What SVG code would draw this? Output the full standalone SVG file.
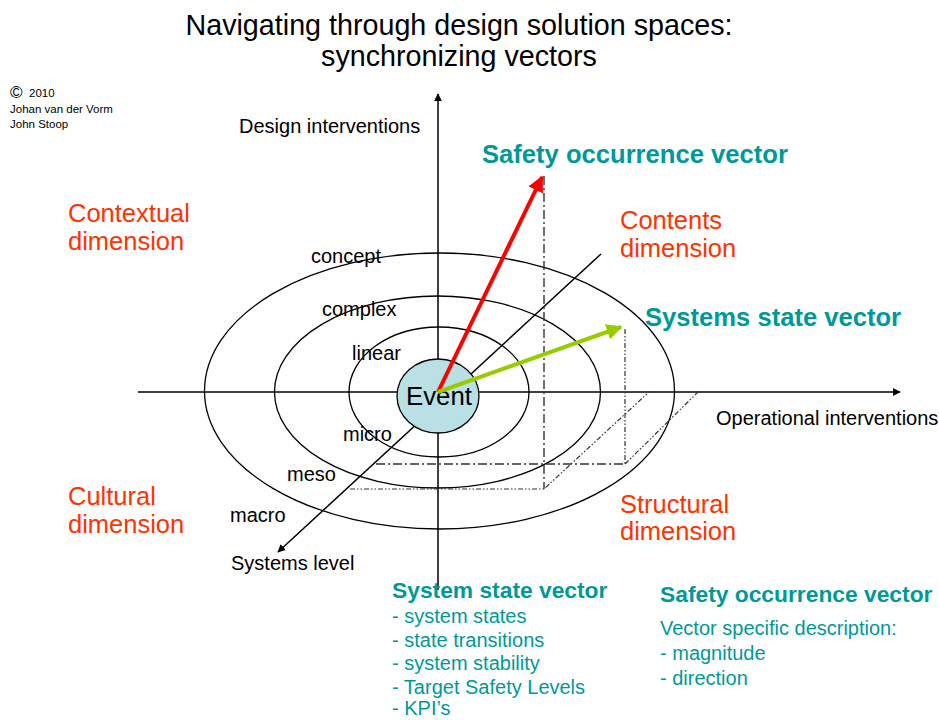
<svg xmlns="http://www.w3.org/2000/svg" width="939" height="720" viewBox="0 0 939 720">
<style>
text{font-family:"Liberation Sans",Arial,sans-serif;fill:#000}
.title{font-size:28.7px;text-anchor:middle}
.dim{font-size:25.5px;fill:#ff3300}
.vec{font-size:25.6px;font-weight:bold;fill:#009999}
.sub{font-size:22.8px;font-weight:bold;fill:#009999}
.item{font-size:20px;fill:#009999}
.lbl{font-size:20px}
.small{font-size:11.5px}
.axis{stroke:#000;stroke-width:1.5;fill:none}
.ell{stroke:#000;stroke-width:1.3;fill:none}
.dd{stroke:#333;stroke-width:1.4;fill:none;stroke-dasharray:9 3 2 3}
.ddd{stroke:#333;stroke-width:1.2;fill:none;stroke-dasharray:5 2 1.5 2 1.5 2}
</style>
<defs>
<marker id="ah" viewBox="0 0 10 10" refX="9" refY="5" markerWidth="8" markerHeight="8" markerUnits="userSpaceOnUse" orient="auto"><path d="M0,0 L10,5 L0,10 z" fill="#000"/></marker>
<marker id="ahr" viewBox="0 0 10 10" refX="9" refY="5" markerWidth="4" markerHeight="4" orient="auto"><path d="M0,0 L10,5 L0,10 z" fill="#ff0000"/></marker>
<marker id="ahg" viewBox="0 0 10 10" refX="9" refY="5" markerWidth="4" markerHeight="4" orient="auto"><path d="M0,0 L10,5 L0,10 z" fill="#99cc00"/></marker>
</defs>

<g id="title">
<text class="title" x="459" y="35">Navigating through design solution spaces:</text>
<text class="title" x="459" y="66">synchronizing vectors</text>
</g>
<g id="copyright">
<text x="10" y="98" style="font-size:17px">©</text>
<text x="29" y="97" class="small">2010</text>
<text x="10" y="113" class="small">Johan van der Vorm</text>
<text x="10" y="128" class="small">John Stoop</text>
</g>

<g id="ellipses">
<ellipse id="macro-ring" class="ell" cx="439.5" cy="391" rx="235" ry="138"/>
<ellipse id="meso-ring" class="ell" cx="437.5" cy="392" rx="163" ry="96"/>
<ellipse id="micro-ring" class="ell" cx="439" cy="392" rx="90" ry="65"/>
</g>

<g id="connectors">
<line class="axis" x1="438" y1="590" x2="438" y2="94" marker-end="url(#ah)"/>
<line class="axis" x1="138" y1="392" x2="900" y2="392" marker-end="url(#ah)"/>
<line class="axis" x1="601" y1="254" x2="278" y2="552" marker-end="url(#ah)"/>
<path class="dd" d="M544,176 L544,489"/>
<path class="ddd" d="M350,489 L544,489 L649,392"/>
<path class="ddd" d="M625,329 L625,464"/>
<path class="dd" d="M376,464 L625,464"/>
<path class="ddd" d="M625,464 L698,392"/>
</g>

<g id="event">
<ellipse cx="438" cy="396" rx="41" ry="37" fill="#b9e0e4" stroke="#000" stroke-width="1.3"/>
<text x="439" y="405" text-anchor="middle" style="font-size:25.8px">Event</text>
</g>

<g id="vectors">
<line x1="438" y1="392" x2="542" y2="177" stroke="#ff0000" stroke-width="4" marker-end="url(#ahr)"/>
<line x1="438" y1="392" x2="621" y2="327" stroke="#99cc00" stroke-width="4" marker-end="url(#ahg)"/>
</g>

<g id="labels">
<text class="lbl" x="239" y="133">Design interventions</text>
<text class="lbl" x="716" y="425">Operational interventions</text>
<text class="lbl" x="231" y="570">Systems level</text>
<text class="lbl" x="311" y="263">concept</text>
<text class="lbl" x="322" y="316">complex</text>
<text class="lbl" x="352" y="360">linear</text>
<text class="lbl" x="343" y="441">micro</text>
<text class="lbl" x="287" y="481">meso</text>
<text class="lbl" x="230" y="522">macro</text>
<text class="vec" x="482" y="163">Safety occurrence vector</text>
<text class="vec" x="645" y="326">Systems state vector</text>
</g>

<g id="dimensions">
<text class="dim" x="68" y="222">Contextual</text>
<text class="dim" x="68" y="250">dimension</text>
<text class="dim" x="620" y="229">Contents</text>
<text class="dim" x="620" y="257">dimension</text>
<text class="dim" x="68" y="505">Cultural</text>
<text class="dim" x="68" y="533">dimension</text>
<text class="dim" x="620" y="513">Structural</text>
<text class="dim" x="620" y="540">dimension</text>
</g>

<g id="legend-system">
<text class="sub" x="392" y="598">System state vector</text>
<text class="item" x="392" y="623">- system states</text>
<text class="item" x="392" y="647">- state transitions</text>
<text class="item" x="392" y="670">- system stability</text>
<text class="item" x="392" y="694">- Target Safety Levels</text>
<text class="item" x="392" y="715">- KPI’s</text>
</g>
<g id="legend-safety">
<text class="sub" x="660" y="602">Safety occurrence vector</text>
<text class="item" x="660" y="635">Vector specific description:</text>
<text class="item" x="660" y="660">- magnitude</text>
<text class="item" x="660" y="685">- direction</text>
</g>
</svg>
